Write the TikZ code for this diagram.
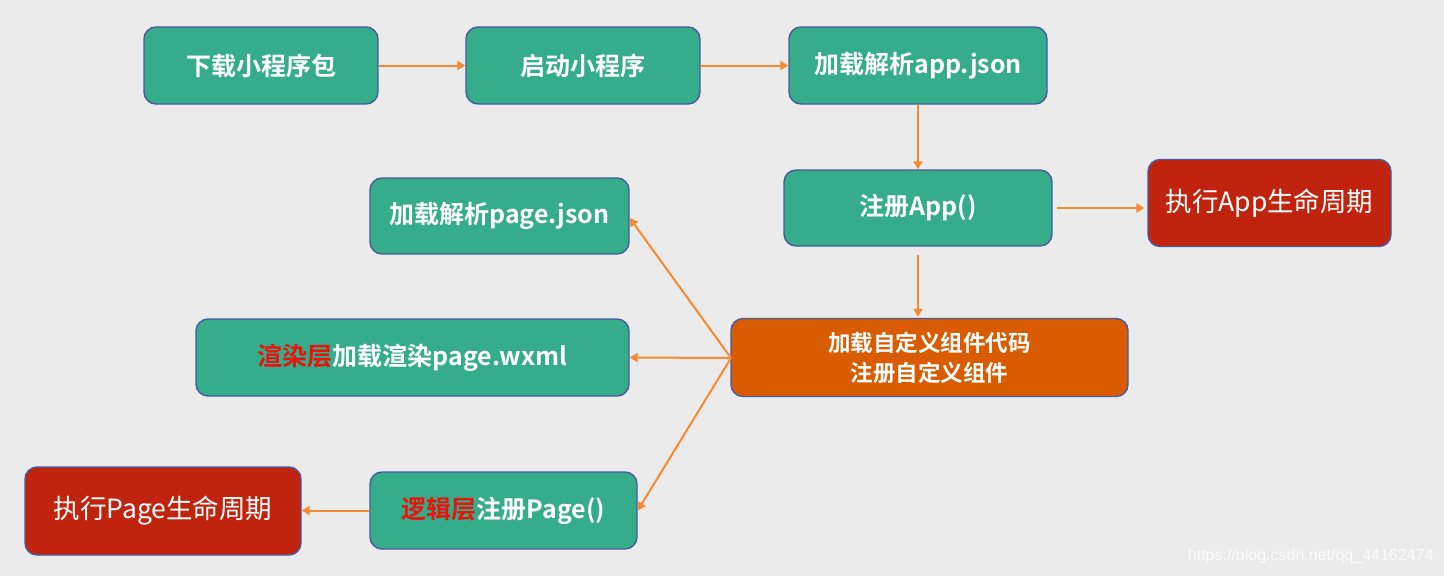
\documentclass[tikz,border=0pt]{standalone}
\usepackage{fontspec}
\setmainfont{Noto Sans CJK SC}[BoldFont={Noto Sans CJK SC Bold}]
\newfontfamily\wmfont{Liberation Sans}
\usetikzlibrary{arrows.meta}
\definecolor{bg}{HTML}{EBEBEB}
\definecolor{boxgreen}{HTML}{35AC8A}
\definecolor{boxorange}{HTML}{D95C00}
\definecolor{boxred}{HTML}{C0240E}
\definecolor{boxborder}{HTML}{4A5A9E}
\definecolor{arrowc}{HTML}{F58A30}
\definecolor{hl}{HTML}{E8150F}
\begin{document}
\begin{tikzpicture}[x=1pt,y=-1pt,
  base/.style={draw=boxborder,line width=1.4pt,rounded corners=12pt,text=white,align=center,inner sep=0pt},
  gbox/.style={base,fill=boxgreen,font=\fontsize{25}{30}\selectfont\bfseries},
  obox/.style={base,fill=boxorange,font=\fontsize{22.5}{30}\selectfont\bfseries},
  rbox/.style={base,fill=boxred,font=\fontsize{26.5}{30}\selectfont},
  arr/.style={draw=arrowc,line width=2pt,-{Triangle[length=8pt,width=9pt]}}
]
\fill[bg] (0,0) rectangle (1444,576);
\useasboundingbox (0,0) rectangle (1444,576);

\node[gbox,minimum width=234pt,minimum height=77pt] (b1) at (261,65.5) {下载小程序包};
\node[gbox,minimum width=234pt,minimum height=77pt] (b2) at (583,65.5) {启动小程序};
\node[gbox,minimum width=258pt,minimum height=77pt] (b3) at (918,65.5) {加载解析app.json};
\node[gbox,minimum width=268pt,minimum height=76pt] (b4) at (918,208) {注册App()};
\node[rbox,minimum width=243pt,minimum height=87pt] (b5) at (1269.5,203) {执行App生命周期};
\node[gbox,minimum width=259pt,minimum height=76pt] (b6) at (499.5,216) {加载解析page.json};
\node[gbox,minimum width=433pt,minimum height=77pt] (b7) at (412.5,357.5) {{\color{hl}渲染层}加载渲染page.wxml};
\node[obox,minimum width=397pt,minimum height=78pt] (b8) at (929.5,357.5) {加载自定义组件代码\\注册自定义组件};
\node[rbox,minimum width=276pt,minimum height=88pt] (b9) at (163,511) {执行Page生命周期};
\node[gbox,minimum width=267pt,minimum height=77pt] (b10) at (503.5,510.5) {{\color{hl}逻辑层}注册Page()};

\coordinate (fan) at (731,358);

\draw[arr] (b1.east) -- (b2.west);
\draw[arr] (b2.east) -- (b3.west);
\draw[arr] (b3.south) -- (b4.north);
\draw[arr,shorten <=4pt,shorten >=3pt] (b4.east) -- (b4.east -| b5.west);
\draw[arr,shorten <=8pt,shorten >=1pt] (b4.south) -- (b4.south |- b8.north);
\draw[arr] (fan) -- ([yshift=-2pt]b6.east);
\draw[arr] (fan) -- (b7.east);
\draw[arr] (fan) -- (b10.east);
\draw[arr] (b10.west) -- (b10.west -| b9.east);

\node[font=\wmfont\fontsize{16}{18}\selectfont,text=white,text opacity=0.85,anchor=east] (wm) at (1437,556) {https://blog.csdn.net/qq\_44162474};
\end{tikzpicture}
\end{document}
